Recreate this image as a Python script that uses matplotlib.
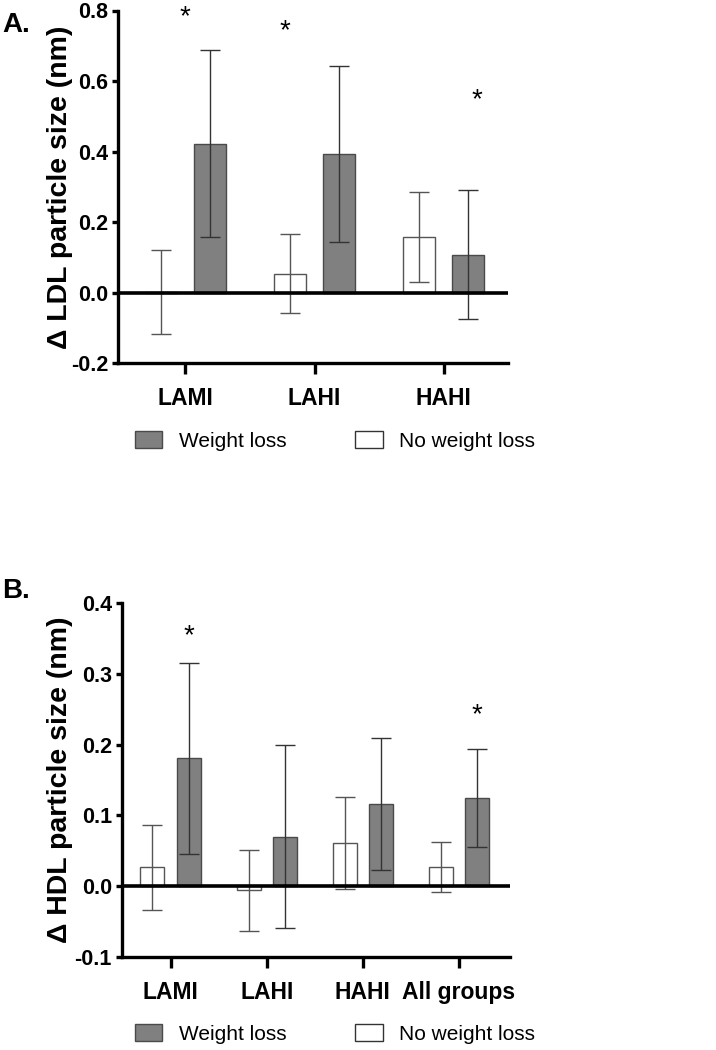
import matplotlib
matplotlib.use("Agg")
import matplotlib.pyplot as plt
import numpy as np
from matplotlib.patches import Patch

FONT = ['Liberation Sans', 'DejaVu Sans']
plt.rcParams['font.family'] = FONT

# panel A: LDL particle size change
ldl_groups = ['LAMI', 'LAHI', 'HAHI']
ldl_noloss = [0.002, 0.054, 0.158]
ldl_noloss_err = [0.118, 0.112, 0.128]
ldl_loss = [0.423, 0.394, 0.108]
ldl_loss_err = [0.266, 0.250, 0.183]
ldl_stars = [(0.0, 0.782), (0.77, 0.742), (2.26, 0.545)]

# panel B: HDL particle size change
hdl_groups = ['LAMI', 'LAHI', 'HAHI', 'All groups']
hdl_noloss = [0.027, -0.006, 0.061, 0.027]
hdl_noloss_err = [0.060, 0.057, 0.065, 0.035]
hdl_loss = [0.181, 0.070, 0.116, 0.125]
hdl_loss_err = [0.135, 0.129, 0.093, 0.069]
hdl_stars = [(0.19, 0.353), (3.19, 0.241)]

GRAY = '#808080'
OFF = 0.19
W = 0.25


def draw_panel(ax, groups, noloss, noloss_err, loss, loss_err, stars,
               ylim, yticks, ylabel, xlim, label_x):
    x = np.arange(len(groups))
    ax.bar(x - OFF, noloss, W, color='white', edgecolor='#555555', linewidth=1.0,
           yerr=noloss_err, capsize=7,
           error_kw=dict(ecolor='#555555', elinewidth=1.0, capthick=1.0))
    ax.bar(x + OFF, loss, W, color=GRAY, edgecolor='#4a4a4a', linewidth=1.0,
           yerr=loss_err, capsize=7,
           error_kw=dict(ecolor='#333333', elinewidth=1.0, capthick=1.0))
    ax.axhline(0, color='black', lw=2.6, zorder=5)
    for sx, sy in stars:
        ax.text(sx, sy, '*', ha='center', va='center', fontsize=20)

    ax.set_xlim(*xlim)
    ax.set_ylim(*ylim)
    ax.set_yticks(yticks)
    ax.set_yticklabels([f'{t:.1f}' for t in yticks])
    ax.set_xticks(x)
    ax.set_xticklabels(groups)
    for s in ['top', 'right']:
        ax.spines[s].set_visible(False)
    for s in ['left', 'bottom']:
        ax.spines[s].set_linewidth(2.4)
    ax.tick_params(axis='x', length=8, width=2.4, labelsize=16.5, pad=9)
    ax.tick_params(axis='y', length=4, width=2.4, labelsize=15.5, pad=3)
    for t in ax.get_xticklabels() + ax.get_yticklabels():
        t.set_fontweight('bold')
    ax.set_ylabel(ylabel, fontsize=20.5, fontweight='bold')
    ax.yaxis.set_label_coords(label_x, 0.5)


fig = plt.figure(figsize=(7.16, 10.5), dpi=100)

axA = fig.add_axes([0.165, 0.654, 0.545, 0.336])
draw_panel(axA, ldl_groups, ldl_noloss, ldl_noloss_err, ldl_loss, ldl_loss_err,
           ldl_stars, (-0.2, 0.8), [-0.2, 0.0, 0.2, 0.4, 0.6, 0.8],
           '\u0394 LDL particle size (nm)', (-0.52, 2.50), -0.115)

axB = fig.add_axes([0.170, 0.0886, 0.542, 0.337])
draw_panel(axB, hdl_groups, hdl_noloss, hdl_noloss_err, hdl_loss, hdl_loss_err,
           hdl_stars, (-0.1, 0.4), [-0.1, 0.0, 0.1, 0.2, 0.3, 0.4],
           '\u0394 HDL particle size (nm)', (-0.51, 3.53), -0.126)

handles = [Patch(facecolor=GRAY, edgecolor='#4a4a4a', label='Weight loss'),
           Patch(facecolor='white', edgecolor='#333333', label='No weight loss')]
for yc in [1 - 441 / 1050, 1 - 1034 / 1050]:
    fig.legend(handles=handles, ncol=2, loc='center left',
               bbox_to_anchor=(0.189, yc), frameon=False, fontsize=15,
               handlelength=1.3, handleheight=0.9, handletextpad=0.8,
               columnspacing=3.3, borderpad=0, borderaxespad=0)

fig.text(0.003, 0.976, 'A.', fontsize=20, fontweight='bold', va='center')
fig.text(0.003, 0.437, 'B.', fontsize=20, fontweight='bold', va='center')

fig.savefig('out.png', dpi=100)
